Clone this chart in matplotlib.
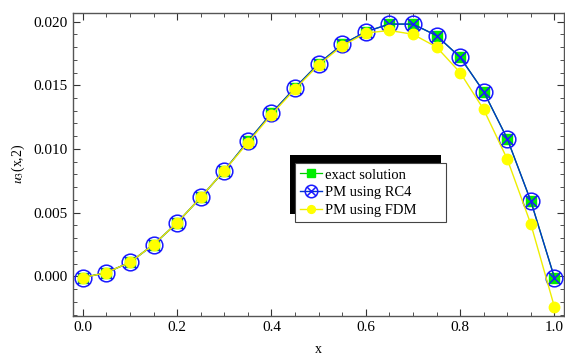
import numpy as np
import matplotlib
matplotlib.use("Agg")
import matplotlib.pyplot as plt
from matplotlib.path import Path
from matplotlib.patches import Rectangle
from matplotlib.ticker import MultipleLocator

x = [0.0, 0.05, 0.1, 0.15, 0.2, 0.25, 0.3, 0.35, 0.4, 0.45, 0.5,
     0.55, 0.6, 0.65, 0.7, 0.75, 0.8, 0.85, 0.9, 0.95, 1.0]
exact = [-0.0001, 0.0003, 0.0011, 0.0025, 0.0042, 0.0062, 0.0083, 0.0106, 0.0128,
         0.0148, 0.0167, 0.0182, 0.0192, 0.0198, 0.0198, 0.0189, 0.0172, 0.0145,
         0.0108, 0.0059, -0.0001]
rc4 = [-0.0001, 0.0003, 0.0011, 0.0025, 0.0042, 0.0062, 0.0083, 0.0106, 0.0128,
       0.0148, 0.0167, 0.0182, 0.0192, 0.0198, 0.0198, 0.0189, 0.0172, 0.0145,
       0.0108, 0.0059, -0.0001]
fdm = [-0.0001, 0.0003, 0.0011, 0.0025, 0.0042, 0.0062, 0.0083, 0.0105, 0.0127,
       0.0147, 0.0166, 0.0181, 0.0191, 0.0193, 0.0190, 0.0180, 0.0160, 0.0131,
       0.0092, 0.0041, -0.0024]
labels = ["exact solution", "PM using RC4", "PM using FDM"]

plt.rcParams['font.family'] = ['Liberation Serif', 'DejaVu Serif']
plt.rcParams['mathtext.fontset'] = 'stix'

# circle with cross marker
circ = Path.unit_circle()
s = np.sqrt(0.5)
cross = Path([(-s, -s), (s, s), (-s, s), (s, -s)],
             [Path.MOVETO, Path.LINETO, Path.MOVETO, Path.LINETO])
otimes = Path.make_compound_path(circ, cross)

fig = plt.figure(figsize=(5.65, 3.61), dpi=100)
ax = fig.add_axes([0.129, 0.125, 0.869, 0.84])

ax.plot(x, exact, color='#00cc00', lw=0.9, marker='s', ms=7,
        mfc='#00ee00', mec='#00ee00', label=labels[0], zorder=2)
ax.plot(x, rc4, color='#0033cc', lw=1.0, marker=otimes, ms=12,
        mfc='none', mec='#1a1aff', mew=1.1, label=labels[1], zorder=3)
ax.plot(x, fdm, color='#eeee00', lw=1.0, marker='o', ms=7.5,
        mfc='#ffff00', mec='#ffff00', label=labels[2], zorder=4)

ax.set_xlim(-0.021, 1.02)
ax.set_ylim(-0.0031, 0.0207)
ax.xaxis.set_major_locator(MultipleLocator(0.2))
ax.xaxis.set_minor_locator(MultipleLocator(0.05))
ax.yaxis.set_major_locator(MultipleLocator(0.005))
ax.yaxis.set_minor_locator(MultipleLocator(0.001))
ax.xaxis.set_major_formatter(matplotlib.ticker.FormatStrFormatter('%.1f'))
ax.yaxis.set_major_formatter(matplotlib.ticker.FormatStrFormatter('%.3f'))
ax.tick_params(which='both', direction='in', top=True, right=True,
               labelsize=11, color='#333333')
ax.tick_params(which='major', length=5, width=0.8)
ax.tick_params(which='minor', length=3, width=0.6)
for sp in ax.spines.values():
    sp.set_color('#555555')
    sp.set_linewidth(1.0)

ax.set_xlabel('x', fontsize=10, labelpad=7)
ax.set_ylabel(r'$u_3$(x,2)', fontsize=10, labelpad=5)

leg = ax.legend(loc='lower left', bbox_to_anchor=(0.453, 0.31, 0.307, 0.221),
                mode='expand', fontsize=10.5, frameon=True, fancybox=False,
                framealpha=1, facecolor='white',
                handlelength=1.5, handletextpad=0.2, borderpad=0.35,
                labelspacing=0.3, markerscale=0.75, borderaxespad=0)
leg.get_frame().set_edgecolor('#444444')
leg.get_frame().set_linewidth(0.8)
leg.set_zorder(10)

fig.canvas.draw()
bb = leg.get_window_extent()
inv = fig.transFigure.inverted()
(x0, y0) = inv.transform((bb.x0 - 5, bb.y0 + 8))
(x1, y1) = inv.transform((bb.x1 - 5, bb.y1 + 8))
shadow = Rectangle((x0, y0), x1 - x0, y1 - y0, transform=fig.transFigure,
                   facecolor='black', edgecolor='none', zorder=9)
ax.add_artist(shadow)
shadow.set_clip_on(False)

fig.savefig('out.png', dpi=100)
